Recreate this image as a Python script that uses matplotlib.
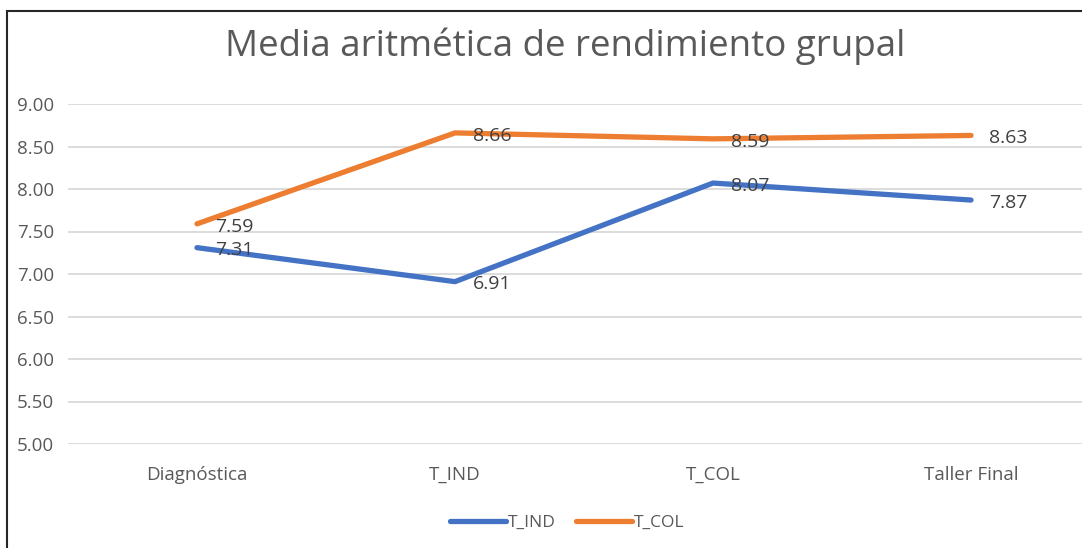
import numpy as np
import matplotlib.pyplot as plt
from matplotlib.patches import Rectangle

# datos
categorias = ["Diagnóstica", "T_IND", "T_COL", "Taller Final"]
t_ind = [7.31, 6.91, 8.07, 7.87]
t_col = [7.59, 8.66, 8.59, 8.63]
ticks_y = [5.00, 5.50, 6.00, 6.50, 7.00, 7.50, 8.00, 8.50, 9.00]

plt.rcParams['font.family'] = ['Open Sans', 'DejaVu Sans']
gris = "#595959"

W, H = 1082, 548
fig = plt.figure(figsize=(W/100, H/100), dpi=100)

# area del grafico en pixeles
x0, x1 = 68, 1082
y_top, y_bot = 104, 444
ax = fig.add_axes([x0/W, 1-y_bot/H, (x1-x0)/W, (y_bot-y_top)/H])

x = np.arange(len(categorias))
ax.plot(x, t_ind, color="#4472C4", lw=3.8, solid_capstyle="round", label="T_IND")
ax.plot(x, t_col, color="#ED7D31", lw=3.8, solid_capstyle="round", label="T_COL")

# etiquetas de datos
for serie in (t_ind, t_col):
    for xi, v in zip(x, serie):
        ax.annotate(f"{v:.2f}", (xi, v), xytext=(13, -2), textcoords="offset points",
                    va="center", ha="left", fontsize=14, color="#404040")

ax.set_ylim(5, 9)
ax.set_xlim(-0.5, -0.5 + (x1-x0)/258)
ax.set_yticks(ticks_y)
ax.set_yticklabels([f"{v:.2f}" for v in ticks_y])
ax.set_xticks(x)
ax.set_xticklabels(categorias)
ax.tick_params(axis="both", length=0, colors=gris, labelsize=13.5)
ax.tick_params(axis="y", pad=10)
ax.tick_params(axis="x", pad=16)
ax.grid(axis="y", color="#D9D9D9", lw=1.3)
ax.set_axisbelow(True)
for s in ax.spines.values():
    s.set_visible(False)

fig.text(565/W, 1-46/H, "Media aritmética de rendimiento grupal", ha="center", va="center",
         fontsize=26.5, color=gris)

leg = fig.legend(loc="center", bbox_to_anchor=(567/W, 1-523/H), ncol=2, frameon=False,
                 fontsize=12.5, handlelength=3.2, columnspacing=1.2, handletextpad=0.1)
for t in leg.get_texts():
    t.set_color(gris)

# borde
fig.patches.append(Rectangle((7/W, -0.05), 1.1, 1.05-11/H, transform=fig.transFigure,
                             fill=False, edgecolor="#262626", lw=1.5))

fig.savefig("out.png", dpi=100)
